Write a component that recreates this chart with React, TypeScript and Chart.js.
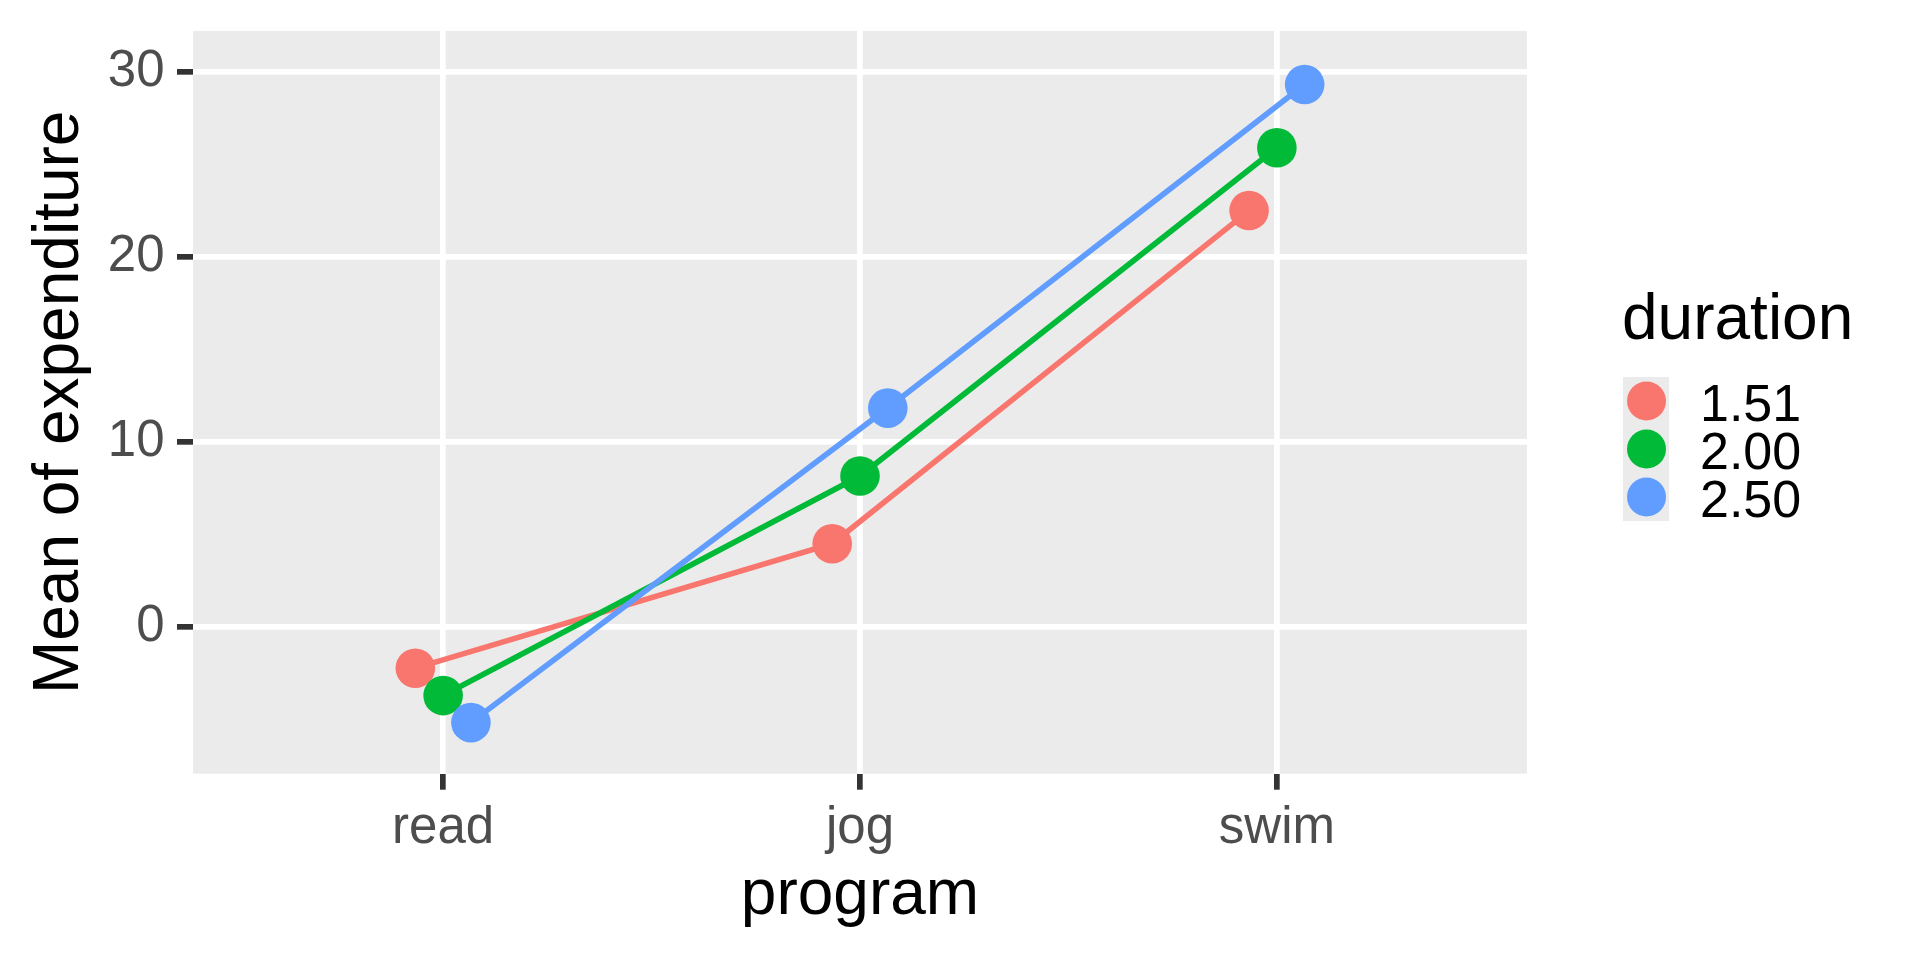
import { useEffect, useRef } from "react";
import { Chart, registerables } from "chart.js";

Chart.register(...registerables);

// values
const programs = ["read", "jog", "swim"];
const durations = ["1.51", "2.00", "2.50"];
const expenditure151 = [-2.23, 4.49, 22.49];
const expenditure200 = [-3.71, 8.15, 25.88];
const expenditure250 = [-5.17, 11.82, 29.3];
const yTicks = [0, 10, 20, 30];
const colors = ["#F8766D", "#00BA38", "#619CFF"];

const FONT = "'Liberation Sans', Arial, sans-serif";
const DODGE = 0.2; // position_dodge width

const panelBackground = {
  id: "panelBackground",
  beforeDraw(chart: Chart) {
    const { ctx, chartArea } = chart;
    ctx.save();
    ctx.fillStyle = "#EBEBEB";
    ctx.fillRect(chartArea.left, chartArea.top, chartArea.right - chartArea.left, chartArea.bottom - chartArea.top);
    ctx.restore();
  },
};

// ggplot style legend on the right
const sideLegend = {
  id: "sideLegend",
  afterDraw(chart: Chart) {
    const { ctx } = chart;
    const x0 = chart.chartArea.right + 96;
    const keyTop = 377;
    const keySize = 48;
    ctx.save();
    ctx.fillStyle = "#000000";
    ctx.font = `64px ${FONT}`;
    ctx.textBaseline = "alphabetic";
    ctx.textAlign = "left";
    ctx.fillText("duration", x0 - 1, 339);

    const n = chart.data.datasets.length;
    ctx.fillStyle = "#EBEBEB";
    ctx.fillRect(x0, keyTop, 46, keySize * n);
    chart.data.datasets.forEach((ds, i) => {
      const cy = keyTop + keySize * i + keySize / 2;
      ctx.beginPath();
      ctx.arc(x0 + 23.5, cy, 19.5, 0, Math.PI * 2);
      ctx.fillStyle = ds.backgroundColor as string;
      ctx.fill();
      ctx.fillStyle = "#000000";
      ctx.font = `52px ${FONT}`;
      ctx.fillText(String(ds.label), x0 + 77, cy + 20);
    });
    ctx.restore();
  },
};

export default function App() {
  const canvasRef = useRef<HTMLCanvasElement | null>(null);
  const chartRef = useRef<Chart | null>(null);

  useEffect(() => {
    document.body.style.margin = "0";
    if (!canvasRef.current) return;
    if (chartRef.current) chartRef.current.destroy();

    const series = [expenditure151, expenditure200, expenditure250];
    const datasets = series.map((values, g) => ({
      label: durations[g],
      data: values.map((y, i) => ({ x: i + ((g - 1) * DODGE) / 3, y })),
      borderColor: colors[g],
      backgroundColor: colors[g],
      pointBackgroundColor: colors[g],
      borderWidth: 5.6,
      pointRadius: 19.8,
      pointBorderWidth: 0,
      pointHoverRadius: 19.8,
      tension: 0,
      order: series.length - g,
    }));

    chartRef.current = new Chart(canvasRef.current, {
      type: "line",
      data: { datasets },
      options: {
        animation: false,
        responsive: true,
        maintainAspectRatio: false,
        events: [],
        layout: { padding: { top: 31, right: 393, left: 0, bottom: 0 } },
        plugins: {
          legend: { display: false },
          tooltip: { enabled: false },
        },
        scales: {
          x: {
            type: "linear",
            min: -0.6,
            max: 2.6,
            afterBuildTicks: (scale) => {
              scale.ticks = programs.map((_, i) => ({ value: i }));
            },
            afterFit: (scale) => {
              scale.height = 186.3;
              scale.paddingLeft = 0;
              scale.paddingRight = 0;
            },
            border: { display: false },
            grid: {
              color: "#FFFFFF",
              lineWidth: 5.7,
              drawTicks: true,
              tickLength: 16,
              tickColor: "#333333",
              tickWidth: 5.7,
            },
            ticks: {
              autoSkip: false,
              maxRotation: 0,
              padding: 9,
              color: "#4D4D4D",
              font: { size: 51, family: FONT },
              callback: (value) => programs[Number(value)] ?? "",
            },
            title: {
              display: true,
              text: "program",
              color: "#000000",
              font: { size: 64, family: FONT },
              padding: { top: 0, bottom: 25.6 },
            },
          },
          y: {
            type: "linear",
            min: -7.93,
            max: 32.19,
            afterBuildTicks: (scale) => {
              scale.ticks = yTicks.map((v) => ({ value: v }));
            },
            afterFit: (scale) => {
              scale.width = 193;
              scale.paddingTop = 0;
              scale.paddingBottom = 0;
            },
            border: { display: false },
            grid: {
              color: "#FFFFFF",
              lineWidth: 5.7,
              drawTicks: true,
              tickLength: 16,
              tickColor: "#333333",
              tickWidth: 5.7,
            },
            ticks: {
              padding: 12.5,
              color: "#4D4D4D",
              font: { size: 51, family: FONT },
            },
            title: {
              display: true,
              text: "Mean of expenditure",
              color: "#000000",
              font: { size: 64, family: FONT },
              padding: { top: 21.6, bottom: 0 },
            },
          },
        },
      },
      plugins: [panelBackground, sideLegend],
    });

    return () => {
      if (chartRef.current) {
        chartRef.current.destroy();
        chartRef.current = null;
      }
    };
  }, []);

  return (
    <div style={{ width: 1920, height: 960, position: "relative" }}>
      <canvas ref={canvasRef} />
    </div>
  );
}
